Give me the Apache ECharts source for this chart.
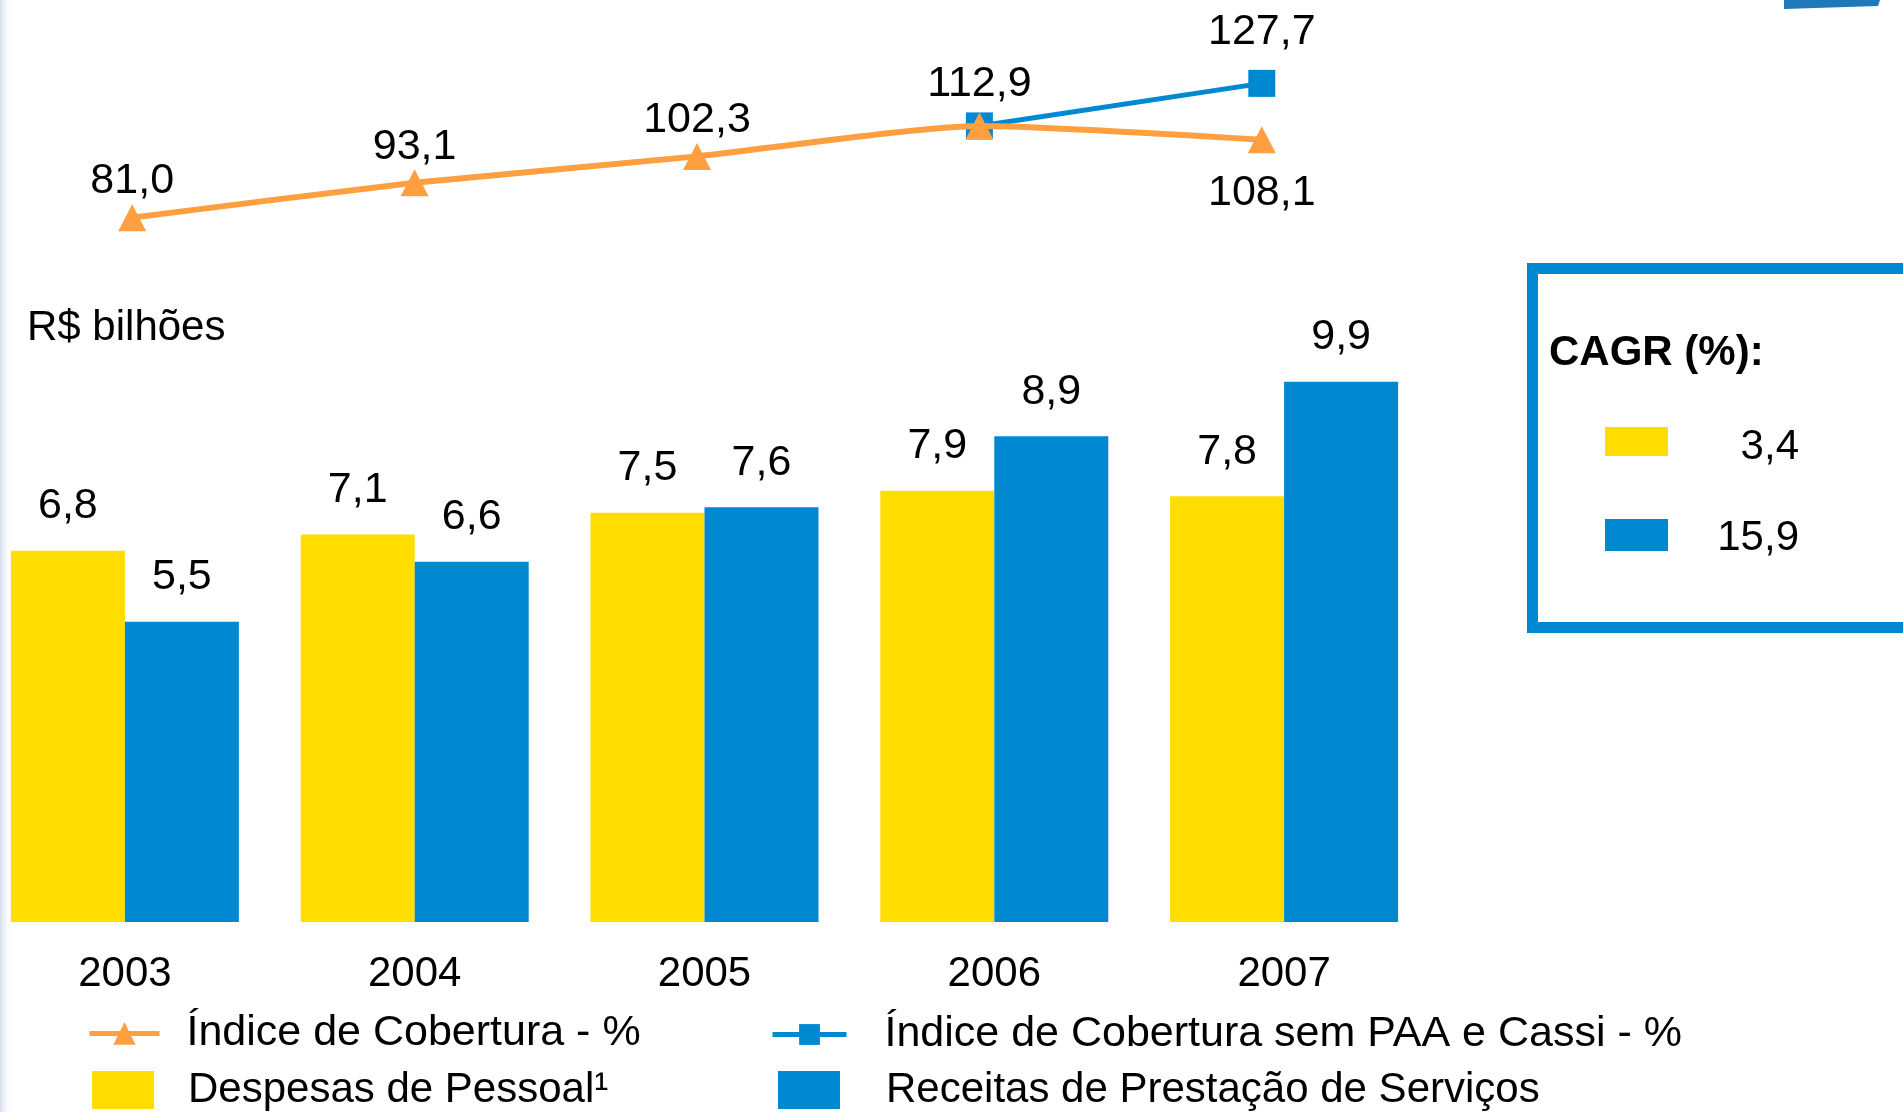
<!DOCTYPE html>
<html>
<head>
<meta charset="utf-8">
<script src="https://cdn.jsdelivr.net/npm/echarts@6/dist/echarts.min.js"></script>
<style>
  html, body { margin: 0; padding: 0; background: #fff; }
  #main { width: 1903px; height: 1112px; }
</style>
</head>
<body>
<div id="main"></div>
<script>
// dados
const anos = ['2003', '2004', '2005', '2006', '2007'];
const despesasPessoal = [6.8, 7.1, 7.5, 7.9, 7.8]; // R$ bilhões
const receitasServicos = [5.5, 6.6, 7.6, 8.9, 9.9];
const indiceCobertura = [81.0, 93.1, 102.3, 112.9, 108.1];
const indiceSemPaaCassi = [null, null, null, 112.9, 127.7];
const cagrLabels = ['3,4', '15,9'];

const AMARELO = '#FFDD00';
const AZUL = '#0088D1';
const LARANJA = '#FF9F40';
const FONTE = '"Liberation Sans", Arial, sans-serif';

const fmt = (v) => v.toFixed(1).replace('.', ',');

const myChart = echarts.init(document.getElementById('main'));

myChart.setOption({
  backgroundColor: '#FFFFFF',
  textStyle: { fontFamily: FONTE },
  grid: [
    // barras
    { left: -20, width: 1449, top: 267, height: 655, outerBoundsMode: 'none' },
    // linhas
    { left: -9, width: 1412, top: 48, height: 230, outerBoundsMode: 'none' },
  ],
  xAxis: [
    {
      type: 'category',
      gridIndex: 0,
      data: anos,
      axisLine: { show: false },
      axisTick: { show: false },
      axisLabel: { color: '#000', fontSize: 42, margin: 31, fontFamily: FONTE },
    },
    {
      type: 'category',
      gridIndex: 1,
      data: anos,
      axisLine: { show: false },
      axisTick: { show: false },
      axisLabel: { show: false },
    },
  ],
  yAxis: [
    { type: 'value', gridIndex: 0, min: 0, max: 12, show: false, splitLine: { show: false } },
    { type: 'value', gridIndex: 1, min: 60, max: 140, show: false, splitLine: { show: false } },
  ],
  legend: [
    {
      data: ['Índice de Cobertura - %'],
      left: 87, top: 1012, padding: 0,
      itemWidth: 70, itemHeight: 28,
      lineStyle: { width: 5 },
      textStyle: { fontSize: 43, color: '#000', fontFamily: FONTE, padding: [0, 0, 0, 22] },
    },
    {
      data: ['Índice de Cobertura sem PAA e Cassi - %'],
      left: 770, top: 1013, padding: 0,
      itemWidth: 74, itemHeight: 26,
      lineStyle: { width: 5 },
      textStyle: { fontSize: 43, color: '#000', fontFamily: FONTE, padding: [0, 0, 0, 33] },
    },
    {
      data: ['Despesas de Pessoal¹'],
      left: 92, top: 1069, padding: 0,
      icon: 'rect', itemWidth: 62, itemHeight: 38,
      textStyle: { fontSize: 42, color: '#000', fontFamily: FONTE, padding: [0, 0, 0, 29] },
    },
    {
      data: ['Receitas de Prestação de Serviços'],
      left: 778, top: 1069, padding: 0,
      icon: 'rect', itemWidth: 62, itemHeight: 38,
      textStyle: { fontSize: 42, color: '#000', fontFamily: FONTE, padding: [0, 0, 0, 41] },
    },
  ],
  graphic: [
    // faixa clara na borda esquerda
    {
      type: 'rect',
      shape: { x: 0, y: 0, width: 12, height: 1112 },
      style: {
        fill: new echarts.graphic.LinearGradient(0, 0, 1, 0, [
          { offset: 0, color: 'rgba(200,214,232,0.8)' },
          { offset: 1, color: 'rgba(255,255,255,0)' },
        ]),
      },
      silent: true,
    },
    // detalhe azul no canto superior direito
    {
      type: 'polygon',
      shape: { points: [[1784, 0], [1880, 0], [1878, 6], [1784, 9]] },
      style: { fill: '#1F78B8' },
      silent: true,
    },
    {
      type: 'text',
      left: 27, top: 307,
      style: { text: 'R$ bilhões', fontSize: 42, fill: '#000', fontFamily: FONTE },
    },
    // caixa CAGR
    {
      type: 'rect',
      shape: { x: 1532.5, y: 268.5, width: 420, height: 359 },
      style: { fill: '#fff', stroke: AZUL, lineWidth: 11 },
    },
    {
      type: 'text',
      left: 1549, top: 332,
      style: { text: 'CAGR (%):', fontSize: 42, fontWeight: 'bold', fill: '#000', fontFamily: FONTE },
    },
    {
      type: 'rect',
      shape: { x: 1605, y: 427, width: 63, height: 29 },
      style: { fill: AMARELO },
    },
    {
      type: 'rect',
      shape: { x: 1605, y: 519, width: 63, height: 32 },
      style: { fill: AZUL },
    },
    {
      type: 'text',
      x: 1799, y: 447,
      style: { text: cagrLabels[0], fontSize: 42, fill: '#000', align: 'right', verticalAlign: 'middle', fontFamily: FONTE },
    },
    {
      type: 'text',
      x: 1799, y: 538,
      style: { text: cagrLabels[1], fontSize: 42, fill: '#000', align: 'right', verticalAlign: 'middle', fontFamily: FONTE },
    },
  ],
  series: [
    {
      name: 'Despesas de Pessoal¹',
      type: 'bar',
      xAxisIndex: 0,
      yAxisIndex: 0,
      data: despesasPessoal,
      barWidth: 114,
      barGap: '0%',
      itemStyle: { color: AMARELO },
      label: {
        show: true, position: 'top', distance: 23,
        fontSize: 43, color: '#000', fontFamily: FONTE,
        formatter: (p) => fmt(p.value),
      },
    },
    {
      name: 'Receitas de Prestação de Serviços',
      type: 'bar',
      xAxisIndex: 0,
      yAxisIndex: 0,
      data: receitasServicos,
      barWidth: 114,
      barGap: '0%',
      itemStyle: { color: AZUL },
      label: {
        show: true, position: 'top', distance: 23,
        fontSize: 43, color: '#000', fontFamily: FONTE,
        formatter: (p) => fmt(p.value),
      },
    },
    {
      name: 'Índice de Cobertura sem PAA e Cassi - %',
      type: 'line',
      xAxisIndex: 1,
      yAxisIndex: 1,
      data: indiceSemPaaCassi.map((v, i) => ({
        value: v,
        label: { show: i === 4 },
      })),
      symbol: 'rect',
      symbolSize: 27,
      showAllSymbol: true,
      lineStyle: { color: AZUL, width: 5 },
      itemStyle: { color: AZUL },
      z: 2,
      label: {
        position: 'top', distance: 16,
        fontSize: 43, color: '#000', fontFamily: FONTE,
        formatter: (p) => fmt(p.value),
      },
    },
    {
      name: 'Índice de Cobertura - %',
      type: 'line',
      xAxisIndex: 1,
      yAxisIndex: 1,
      data: indiceCobertura.map((v, i) => ({
        value: v,
        label: i === 4 ? { position: 'bottom', distance: 18 } : (i === 3 ? { distance: 7 } : {}),
      })),
      symbol: 'triangle',
      symbolSize: [28, 27],
      smooth: 0.2,
      lineStyle: { color: LARANJA, width: 6 },
      itemStyle: { color: LARANJA },
      z: 3,
      label: {
        show: true, position: 'top', distance: 1,
        fontSize: 43, color: '#000', fontFamily: FONTE,
        formatter: (p) => fmt(p.value),
      },
    },
  ],
});
</script>
</body>
</html>
